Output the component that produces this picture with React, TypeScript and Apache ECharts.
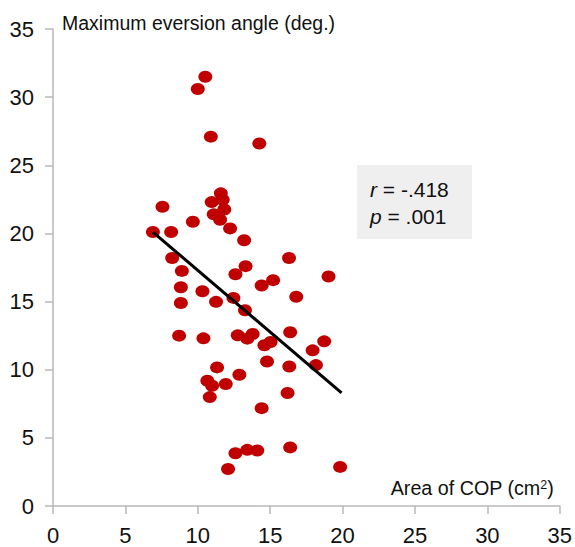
import React, { useEffect, useRef } from "react";
import * as echarts from "echarts";

const xTicks = [0, 5, 10, 15, 20, 25, 30, 35];
const yTicks = [0, 5, 10, 15, 20, 25, 30, 35];

const copArea = [
  6.9, 7.56, 8.16, 9.66, 10.0, 10.52, 10.9, 14.25, 11.59, 10.96, 11.72, 11.83, 11.1, 11.54, 12.23,
  13.2, 8.23, 16.3, 13.3, 8.9, 12.6, 8.83, 10.32, 8.83, 11.26, 12.46, 13.26, 14.41, 15.2, 16.8,
  19.03, 8.71, 10.39, 12.76, 13.42, 13.79, 14.6, 15.03, 16.38, 18.73, 17.93, 18.16, 14.78, 11.33,
  16.32, 12.87, 10.66, 10.99, 11.93, 10.83, 16.2, 14.41, 12.6, 13.42, 14.11, 16.38, 12.09, 19.83,
];
const eversionAngle = [
  20.1, 21.96, 20.1, 20.86, 30.6, 31.5, 27.1, 26.6, 22.94, 22.3, 22.47, 21.76, 21.4, 21.0, 20.37,
  19.5, 18.2, 18.2, 17.6, 17.25, 17.0, 16.05, 15.76, 14.9, 14.98, 15.27, 14.36, 16.18, 16.57, 15.35,
  16.84, 12.5, 12.3, 12.52, 12.28, 12.62, 11.8, 12.03, 12.75, 12.08, 11.42, 10.34, 10.6, 10.17,
  10.24, 9.63, 9.19, 8.82, 8.95, 7.99, 8.29, 7.18, 3.87, 4.12, 4.07, 4.3, 2.72, 2.87,
];
const fitLineX = [6.9, 19.93];
const fitLineY = [20.1, 8.3];
const statR = "-.418";
const statP = ".001";

export default function App() {
  const ref = useRef<HTMLDivElement>(null);
  useEffect(() => {
    if (!ref.current) return;
    const chart = echarts.init(ref.current, null, { renderer: "svg" });
    const font = "'Liberation Sans', Arial, sans-serif";
    const axisLine = { show: true, lineStyle: { color: "#b8b8b8", width: 1.5 } };
    const axisTick = { show: true, length: 8, lineStyle: { color: "#b8b8b8", width: 1.5 } };
    chart.setOption({
      animation: false,
      backgroundColor: "#ffffff",
      grid: { left: 53, right: 15, top: 29, bottom: 41, containLabel: false },
      xAxis: {
        type: "value",
        min: xTicks[0],
        max: xTicks[xTicks.length - 1],
        interval: 5,
        splitLine: { show: false },
        axisLine,
        axisTick,
        axisLabel: { fontSize: 22, color: "#111111", fontFamily: font, margin: 18 },
        name: "{a|Area of COP (cm}{s|2}{a|)}",
        nameLocation: "end",
        nameGap: -6,
        nameTextStyle: {
          align: "right",
          verticalAlign: "bottom",
          padding: [0, 0, 8, 0],
          rich: {
            a: { fontSize: 19.7, color: "#111111", fontFamily: font, verticalAlign: "bottom", lineHeight: 20 },
            s: { fontSize: 12.5, color: "#111111", fontFamily: font, verticalAlign: "top", lineHeight: 20 },
          },
        },
      },
      yAxis: {
        type: "value",
        min: yTicks[0],
        max: yTicks[yTicks.length - 1],
        interval: 5,
        splitLine: { show: false },
        axisLine,
        axisTick,
        axisLabel: { fontSize: 22, color: "#111111", fontFamily: font, margin: 19 },
        name: "Maximum eversion angle (deg.)",
        nameLocation: "end",
        nameGap: 6,
        nameTextStyle: {
          align: "left",
          verticalAlign: "middle",
          fontSize: 19.5,
          color: "#111111",
          fontFamily: font,
          padding: [0, 0, 0, 9],
        },
      },
      graphic: [
        {
          type: "rect",
          shape: { x: 357, y: 165, width: 115, height: 74 },
          style: { fill: "#efefef" },
          z: 10,
        },
        {
          type: "text",
          x: 370,
          y: 189,
          z: 11,
          style: {
            text: "{i|r}{n| = " + statR + "}",
            verticalAlign: "middle",
            rich: {
              i: { fontSize: 21, fontStyle: "italic", fontFamily: font, fill: "#111111" },
              n: { fontSize: 21, fontFamily: font, fill: "#111111" },
            },
          },
        },
        {
          type: "text",
          x: 370,
          y: 216,
          z: 11,
          style: {
            text: "{i|p}{n| = " + statP + "}",
            verticalAlign: "middle",
            rich: {
              i: { fontSize: 21, fontStyle: "italic", fontFamily: font, fill: "#111111" },
              n: { fontSize: 21, fontFamily: font, fill: "#111111" },
            },
          },
        },
      ],
      series: [
        {
          type: "scatter",
          data: copArea.map((x, i) => [x, eversionAngle[i]]),
          symbol: "circle",
          symbolSize: [14, 12],
          itemStyle: { color: "#c00000", opacity: 1 },
          z: 2,
        },
        {
          type: "line",
          data: fitLineX.map((x, i) => [x, fitLineY[i]]),
          symbol: "none",
          lineStyle: { color: "#000000", width: 3 },
          z: 3,
        },
      ],
    });
    return () => chart.dispose();
  }, []);
  return (
    <div
      ref={ref}
      style={{ position: "fixed", left: 0, top: 0, width: 575, height: 547 }}
    />
  );
}
